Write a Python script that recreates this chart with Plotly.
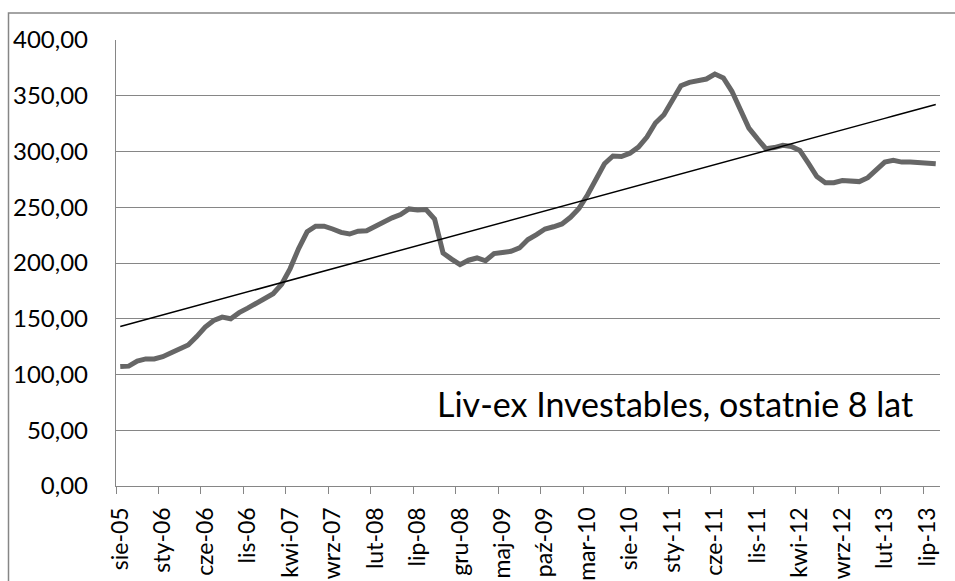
import numpy as np
import plotly.graph_objects as go

# Liv-ex Investables monthly index, sie-05 .. sie-13 (97 months)
values = [
    107.1, 107.5, 112.0, 114.0, 114.0, 116.0, 119.5, 123.5, 126.5, 134.0,
    142.5, 148.5, 151.5, 150.0, 155.5, 159.5, 163.5, 167.5, 172.5, 181.0,
    195.0, 213.0, 228.0, 233.0, 233.0, 230.5, 227.5, 226.0, 228.5, 229.0,
    233.0, 237.5, 240.5, 243.5, 248.5, 247.5, 248.0, 239.5, 209.0, 203.5,
    198.5, 202.5, 204.5, 202.0, 208.5, 209.5, 210.5, 213.5, 221.0, 225.5,
    230.5, 232.5, 235.0, 241.0, 249.0, 261.0, 276.0, 289.0, 296.0, 295.5,
    298.5, 304.0, 313.0, 325.5, 333.0, 345.0, 359.0, 362.0, 364.0, 365.0,
    369.5, 366.0, 354.0, 337.0, 321.0, 311.5, 302.5, 303.5, 305.5, 304.5,
    301.0, 289.5, 277.5, 272.0, 272.0, 274.0, 273.0, 273.0, 276.5, 283.5,
    290.5, 292.0, 290.5, 290.5, 290.0, 289.0, 289.0,
]

x_tick_labels = [
    "sie-05", "sty-06", "cze-06", "lis-06", "kwi-07", "wrz-07", "lut-08",
    "lip-08", "gru-08", "maj-09", "paź-09", "mar-10", "sie-10", "sty-11",
    "cze-11", "lis-11", "kwi-12", "wrz-12", "lut-13", "lip-13",
]
y_tick_values = [0, 50, 100, 150, 200, 250, 300, 350, 400]
y_tick_labels = ["0,00", "50,00", "100,00", "150,00", "200,00",
                 "250,00", "300,00", "350,00", "400,00"]
annotation_text = "Liv-ex Investables, ostatnie 8 lat"

n = len(values)
x = np.arange(n)
slope, intercept = np.polyfit(x, values, 1)
trend = slope * x + intercept

tick_pos = list(range(0, n, 5))[: len(x_tick_labels)]
boundary_pos = [p - 0.5 for p in tick_pos]

FONT = "Lato"
GRID = "#868686"

fig = go.Figure()
fig.add_trace(go.Scatter(x=x, y=values, mode="lines",
                         line=dict(color="#666666", width=5),
                         showlegend=False, hoverinfo="skip"))
fig.add_trace(go.Scatter(x=x, y=trend, mode="lines",
                         line=dict(color="#000000", width=1.5),
                         showlegend=False, hoverinfo="skip"))

fig.update_layout(
    width=955, height=581,
    margin=dict(l=116, r=15, t=40, b=95),
    paper_bgcolor="white", plot_bgcolor="white",
    font=dict(family=FONT, color="#000000"),
    xaxis=dict(
        range=[-0.5, n - 0.5], showgrid=False, zeroline=False,
        showline=True, linecolor=GRID, linewidth=1.3, automargin=False,
        tickmode="array", tickvals=tick_pos, ticktext=x_tick_labels,
        tickangle=-90, ticks="", ticklabelstandoff=11,
        tickfont=dict(family=FONT, size=23, color="#000000"),
        minor=dict(tickmode="array", tickvals=boundary_pos, ticks="outside",
                   ticklen=7, tickcolor=GRID, tickwidth=1.3, showgrid=False),
    ),
    yaxis=dict(
        range=[0, 400], showgrid=True, gridcolor=GRID, gridwidth=1.3,
        zeroline=False, showline=True, linecolor=GRID, linewidth=1.3,
        automargin=False,
        tickmode="array", tickvals=y_tick_values, ticktext=y_tick_labels,
        ticks="", ticklabelstandoff=22,
        tickfont=dict(family=FONT, size=24, color="#000000"),
    ),
    shapes=[dict(type="rect", xref="paper", yref="paper",
                 x0=(8.5 - 116) / 824, x1=1.05, y0=-0.3, y1=(486 - 13) / 446,
                 line=dict(color=GRID, width=1.5), fillcolor="rgba(0,0,0,0)",
                 layer="below")],
    annotations=[dict(text=annotation_text, xref="paper", yref="y",
                      x=(915 - 116) / 824, y=74, xanchor="right",
                      yanchor="middle", showarrow=False,
                      font=dict(family=FONT, size=34, color="#000000"))],
)

fig.write_html("out.html", config={"displayModeBar": False},
               post_script="document.body.style.margin='0';"
                           "document.body.style.overflow='hidden';")
